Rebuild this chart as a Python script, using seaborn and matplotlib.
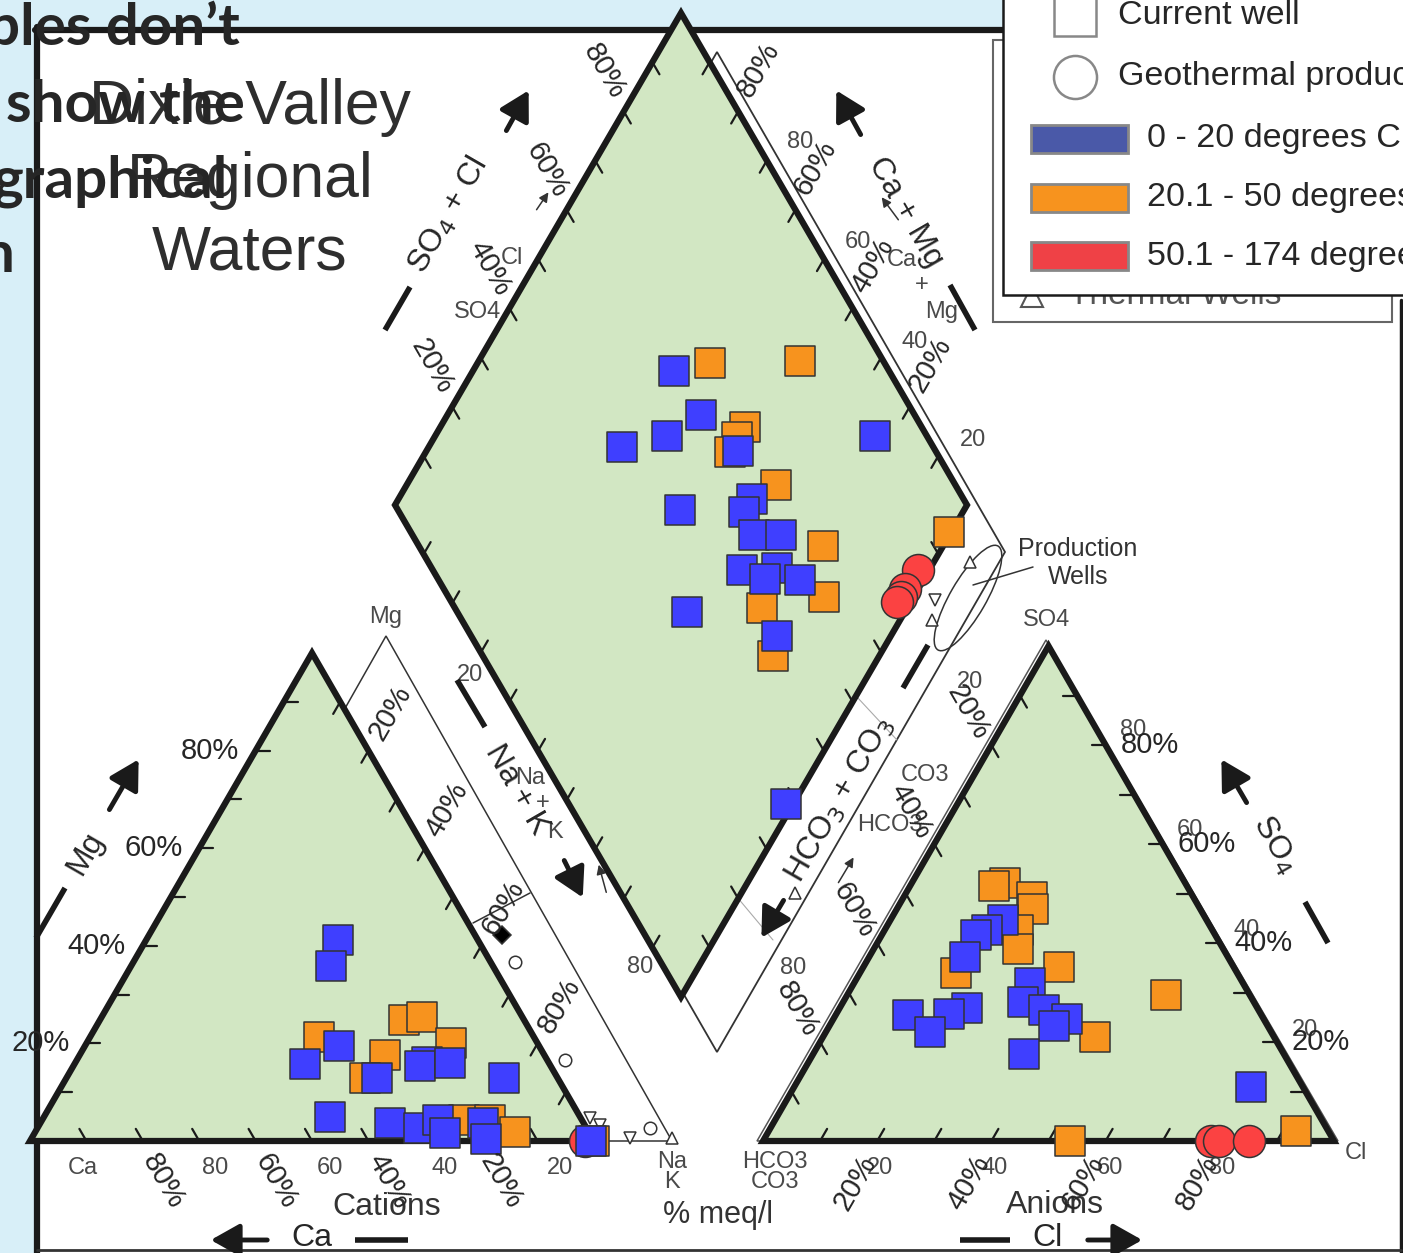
import numpy as np
import pandas as pd
import matplotlib
matplotlib.use("Agg")
import matplotlib.pyplot as plt
import seaborn as sns
from matplotlib.patches import Polygon, Rectangle, Ellipse

# ---- data ----
# cation triangle: Mg %, Na+K %
cat_blue_mg = [41.2, 35.8, 19.5, 15.8, 12.9, 16.2, 15.4, 16.0, 12.9, 4.9, 3.7, 2.7, 4.3, 1.6, 3.7, 0.4, 0.0]
cat_blue_nak = [34.0, 35.5, 45.0, 40.9, 55.1, 62.3, 61.5, 66.5, 77.6, 50.8, 62.0, 67.6, 70.2, 72.8, 78.5, 80.6, 99.5]
cat_orange_mg = [21.3, 24.8, 25.4, 17.6, 20.1, 12.9, 4.3, 4.3, 1.8, 0.0]
cat_orange_nak = [40.6, 53.9, 56.8, 54.1, 64.6, 52.9, 74.8, 79.4, 85.1, 100.0]
cat_red_mg = [0.0]
cat_red_nak = [98.4]

# diamond: Ca+Mg %, SO4+Cl %
dia_blue_camg = [64.8, 55.6, 59.5, 66.2, 45.5, 23.1, 38.2, 38.3, 49.7, 34.2, 29.5, 32.7, 26.8, 27.8, 21.6, 38.1, 19.9, 1.3]
dia_blue_so4cl = [62.4, 62.6, 54.6, 45.6, 65.4, 90.9, 63.0, 60.3, 49.3, 59.7, 64.5, 54.0, 60.4, 57.2, 63.2, 40.2, 53.5, 38.0]
dia_orange_camg = [59.4, 43.8, 46.7, 47.1, 46.8, 35.4, 21.0, 15.6, 25.4, 18.6, 0.4]
dia_orange_so4cl = [69.5, 85.4, 69.1, 66.7, 63.9, 68.6, 70.7, 65.6, 53.7, 50.8, 94.1]
dia_red_camg = [1.9, 2.3, 2.2, 2.4]
dia_red_so4cl = [84.8, 80.6, 79.1, 77.9]

# anion triangle: SO4 %, Cl %
an_blue_so4 = [44.6, 42.6, 41.6, 37.2, 26.9, 25.5, 25.7, 22.0, 31.9, 28.1, 26.5, 24.6, 23.2, 17.6, 10.9]
an_blue_cl = [19.7, 17.9, 16.5, 16.8, 22.3, 12.7, 19.7, 18.2, 30.8, 31.5, 36.0, 40.9, 39.3, 36.9, 80.0]
an_orange_so4 = [52.1, 51.5, 49.3, 46.9, 42.6, 38.8, 33.9, 35.2, 29.5, 21.0, 0.0, 2.0]
an_orange_cl = [16.3, 14.7, 22.4, 23.8, 23.3, 25.2, 16.8, 34.2, 55.8, 47.6, 53.8, 92.3]
an_red_so4 = [0.0, 0.0, 0.0]
an_red_cl = [78.5, 79.9, 85.1]

temp_labels = ["0 - 20 degrees C", "20.1 - 50 degrees C", "50.1 - 174 degrees C"]
pct_labels = [20, 40, 60, 80]

# ---- geometry of the drawing (pixel space) ----
CA, NAK, MG = np.array([30, 1141.]), np.array([594, 1141.]), np.array([312, 653.])
HCO3, CL, SO4 = np.array([763, 1141.]), np.array([1334, 1141.]), np.array([1048.5, 646.])
DT, DL, DR, DB = np.array([681, 13.]), np.array([395, 505.]), np.array([967, 505.]), np.array([681, 997.])

GREEN = "#d2e7c3"
COLORS = {"blue": "#3f3fff", "orange": "#f7931e", "red": "#fb4242"}


def cation_xy(mg, nak):
    mg, nak = np.asarray(mg) / 100, np.asarray(nak) / 100
    p = np.outer(1 - mg - nak, CA) + np.outer(nak, NAK) + np.outer(mg, MG)
    return p[:, 0], p[:, 1]


def anion_xy(so4, cl):
    so4, cl = np.asarray(so4) / 100, np.asarray(cl) / 100
    p = np.outer(1 - so4 - cl, HCO3) + np.outer(cl, CL) + np.outer(so4, SO4)
    return p[:, 0], p[:, 1]


def diamond_xy(camg, so4cl):
    a, b = np.asarray(camg) / 100, np.asarray(so4cl) / 100
    p = DB + np.outer(a, DL - DB) + np.outer(b, DR - DB)
    return p[:, 0], p[:, 1]


rows = []
for col, (mg, nak) in zip(["orange", "blue", "red"],
                          [(cat_orange_mg, cat_orange_nak), (cat_blue_mg, cat_blue_nak), (cat_red_mg, cat_red_nak)]):
    x, y = cation_xy(mg, nak)
    rows += [dict(x=a, y=b, c=col) for a, b in zip(x, y)]
for col, (ca, sc) in zip(["orange", "blue", "red"],
                         [(dia_orange_camg, dia_orange_so4cl), (dia_blue_camg, dia_blue_so4cl), (dia_red_camg, dia_red_so4cl)]):
    x, y = diamond_xy(ca, sc)
    rows += [dict(x=a, y=b, c=col) for a, b in zip(x, y)]
for col, (s, c) in zip(["orange", "blue", "red"],
                       [(an_orange_so4, an_orange_cl), (an_blue_so4, an_blue_cl), (an_red_so4, an_red_cl)]):
    x, y = anion_xy(s, c)
    rows += [dict(x=a, y=b, c=col) for a, b in zip(x, y)]
df = pd.DataFrame(rows)

sns.set_theme(style="white")
plt.rcParams['font.family'] = ['Liberation Sans', 'DejaVu Sans']

fig = plt.figure(figsize=(14.03, 12.53), dpi=100)
ax = fig.add_axes([0, 0, 1, 1])
ax.set_xlim(0, 1403)
ax.set_ylim(1253, 0)
ax.axis('off')

# slide background + frame
ax.add_patch(Rectangle((0, 0), 1403, 30, color="#d8eff8", zorder=0))
ax.add_patch(Rectangle((0, 0), 37, 1253, color="#d8eff8", zorder=0))
ax.plot([37, 37], [27, 1253], color='k', lw=4.5, zorder=1)
ax.plot([35, 1010], [30, 30], color='k', lw=4.5, zorder=1)
ax.plot([1401, 1401], [300, 1253], color='k', lw=2.5, zorder=1)
ax.plot([37, 1401], [1250, 1250], color='#333', lw=2, zorder=1)

# old (scanned) diagram underneath
old = dict(color='#333', lw=1.1, zorder=2)
ax.add_patch(Polygon([[100, 1141], [386, 636], [672, 1141]], closed=True, fill=False, ec='#333', lw=1.1, zorder=2))
ax.add_patch(Polygon([[717, 52], [1005, 552], [717, 1052], [429, 552]], closed=True, fill=False, ec='#333', lw=1.3, zorder=2))
ax.add_patch(Polygon([[757, 1141], [1046, 640], [1338, 1141]], closed=True, fill=False, ec='#555', lw=1.1, zorder=2))
ax.plot([473, 530], [923, 893], **old)
ax.plot([857, 897], [697, 740], color='#aaa', lw=0.8, zorder=2)
ax.plot([737, 773], [897, 940], color='#aaa', lw=0.8, zorder=2)
ax.add_patch(Ellipse((968, 598), 36, 120, angle=30, fill=False, ec='#333', lw=1.1, zorder=2))
ax.plot([973, 1033], [585, 567], **old)
gry = dict(color='#4a4a4a', fontsize=17, ha='center', va='center', zorder=2)
for s, x, y in [("Mg", 386, 617), ("20", 470, 675), ("Na", 530, 778), ("+", 543, 803), ("K", 555, 832),
                ("80", 640, 967), ("Na\nK", 672, 1172), ("Ca", 83, 1168), ("80", 215, 1168),
                ("60", 330, 1168), ("40", 445, 1168), ("20", 560, 1168), ("HCO3\nCO3", 775, 1172),
                ("20", 880, 1168), ("40", 995, 1168), ("60", 1110, 1168), ("80", 1222, 1168),
                ("Cl", 1356, 1153), ("SO4", 1047, 620), ("80", 1133, 730), ("60", 1190, 830),
                ("40", 1247, 930), ("20", 1305, 1030), ("20", 970, 682), ("CO3", 925, 775),
                ("HCO3", 890, 825), ("80", 793, 968), ("20", 973, 440), ("40", 915, 342),
                ("60", 858, 242), ("80", 800, 142), ("Ca", 902, 260), ("+", 922, 285),
                ("Mg", 942, 312), ("Cl", 512, 258), ("SO4", 478, 312)]:
    ax.text(x, y, s, linespacing=0.9, **gry)
ax.text(387, 1207, "Cations", color='#333', fontsize=23, ha='center', va='center', zorder=2)
ax.text(1055, 1205, "Anions", color='#333', fontsize=23, ha='center', va='center', zorder=2)
ax.text(718, 1215, "% meq/l", color='#333', fontsize=22, ha='center', va='center', zorder=2)
ax.text(1078, 563, "Production\nWells", color='#333', fontsize=18, ha='center', va='center', linespacing=1.25, zorder=2)
for a, b in [((550, 190), (535, 212)), ((880, 195), (900, 222)), ((598, 862), (607, 895)), ((855, 855), (837, 885))]:
    ax.annotate('', xy=a, xytext=b, arrowprops=dict(arrowstyle='-|>', color='#333', lw=1.1, mutation_scale=14), zorder=2)
old_pts = [(970, 562, '^'), (935, 600, 'v'), (932, 620, '^'), (795, 893, '^'), (590, 1118, 'v'),
           (600, 1125, 'v'), (630, 1138, 'v'), (650, 1128, 'o'), (672, 1138, '^'), (565, 1060, 'o'),
           (515, 962, 'o'), (502, 935, 'D')]
for x, y, m in old_pts:
    ax.plot(x, y, marker=m, ms=9, mfc='black' if m == 'D' else 'white', mec='#333', mew=1.1, zorder=2)

# green piper diagram
for verts in [[CA, MG, NAK], [HCO3, SO4, CL], [DT, DR, DB, DL]]:
    ax.add_patch(Polygon(verts, closed=True, fc=GREEN, ec='k', lw=4.5, joinstyle='miter', zorder=3))


def ticks(p0, p1, direction, n=10, length=14):
    d = direction / np.linalg.norm(direction)
    for f in np.arange(1, n) / n:
        p = p0 + f * (p1 - p0)
        q = p + d * length
        ax.plot([p[0], q[0]], [p[1], q[1]], color='k', lw=1.6, zorder=4)


ticks(CA, MG, NAK - CA)
ticks(CA, NAK, MG - NAK)
ticks(NAK, MG, CA - MG)
ticks(CL, SO4, HCO3 - CL)
ticks(HCO3, CL, SO4 - HCO3)
ticks(HCO3, SO4, CL - SO4)
ticks(DL, DT, DB - DL)
ticks(DL, DB, DT - DL)
ticks(DR, DT, DB - DR)
ticks(DR, DB, DT - DR)

# percentage labels
lab = dict(fontsize=21, ha='center', va='center', rotation_mode='anchor', zorder=6)
for v in pct_labels:
    f = v / 100
    p = CA + f * (MG - CA)
    ax.text(p[0] - 46, p[1], f"{v}%", **lab)
    p = CL + f * (SO4 - CL)
    ax.text(p[0] + 44, p[1], f"{v}%", **lab)
    p = CA + f * (NAK - CA)
    ax.text(p[0] + 20, p[1] + 40, f"{100 - v}%", rotation=-60, **lab)
    p = HCO3 + f * (CL - HCO3)
    ax.text(p[0] - 22, p[1] + 42, f"{v}%", rotation=60, **lab)
    p = MG + f * (NAK - MG)
    ax.text(p[0] + 22, p[1] - 38, f"{v}%", rotation=60, **lab)
    p = SO4 + f * (HCO3 - SO4)
    ax.text(p[0] - 23, p[1] - 33, f"{v}%", rotation=-60, **lab)
    p = DL + f * (DT - DL)
    ax.text(p[0] - 20, p[1] - 40, f"{v}%", rotation=-60, **lab)
    p = DR + f * (DT - DR)
    ax.text(p[0] + 20, p[1] - 42, f"{v}%", rotation=60, **lab)

# axis names with arrows and dashes
names = [("Mg", 85, 853, 60, (108, 812), (140, 757), (36, 938), (65, 888)),
         ("SO$_4$ + Cl", 448, 215, 60, (505, 133), (530, 88), (385, 330), (410, 287)),
         ("Ca + Mg", 905, 212, -60, (862, 137), (835, 88), (950, 285), (975, 330)),
         ("Na + K", 517, 790, -60, (563, 858), (584, 900), (457, 680), (485, 727)),
         ("HCO$_3$ + CO$_3$", 840, 800, 60, (785, 898), (760, 940), (903, 688), (928, 645)),
         ("SO$_4$", 1275, 845, -60, (1248, 805), (1220, 757), (1305, 902), (1328, 943)),
         ("Ca", 312, 1238, 0, (270, 1240), (208, 1240), (355, 1240), (408, 1240)),
         ("Cl", 1048, 1238, 0, (1085, 1240), (1145, 1240), (960, 1240), (1010, 1240))]
for s, x, y, rot, a0, a1, d0, d1 in names:
    ax.text(x, y, s, fontsize=23, rotation=rot, ha='center', va='center', rotation_mode='anchor', zorder=6)
    ax.annotate('', xy=a1, xytext=a0, zorder=6,
                arrowprops=dict(arrowstyle='-|>,head_length=0.8,head_width=0.45', color='k', lw=3.5, mutation_scale=22))
    ax.plot([d0[0], d1[0]], [d0[1], d1[1]], color='k', lw=4, solid_capstyle='butt', zorder=6)

# samples: red drawn first so squares sit on top of it, as in the source
sns.scatterplot(data=df[df.c == "red"], x='x', y='y', color=COLORS["red"], marker='o', s=530,
                edgecolor='#333', linewidth=1.1, ax=ax, legend=False, zorder=5)
for col in ["orange", "blue"]:
    sns.scatterplot(data=df[df.c == col], x='x', y='y', color=COLORS[col], marker='s', s=436,
                    edgecolor='#333', linewidth=1.1, ax=ax, legend=False, zorder=5)
ax.set_xlim(0, 1403)
ax.set_ylim(1253, 0)
ax.axis('off')

# old legend remnant
ax.add_patch(Rectangle((993, 40), 399, 282, fill=False, ec='#666', lw=1.5, zorder=6))
ax.text(1175, 296, "Thermal Wells", color='#555', fontsize=24, ha='center', va='center', zorder=6)
ax.plot(1032, 296, marker='^', ms=16, mfc='white', mec='#555', mew=1.5, zorder=6)

# legend
ax.add_patch(Rectangle((1003, -10), 420, 305, fc='white', ec='k', lw=1.8, zorder=7))
ax.plot(1075, 15, marker='s', ms=30, mfc='white', mec='#888', mew=1.8, zorder=8)
ax.plot(1075, 77, marker='o', ms=31, mfc='white', mec='#888', mew=1.8, zorder=8)
ax.text(1118, 15, "Current well", fontsize=24.5, va='center', zorder=8)
ax.text(1118, 76, "Geothermal production wells", fontsize=24.5, va='center', zorder=8)
for i, (col, txt) in enumerate(zip(["#4a59a8", COLORS["orange"], "#ef4146"], temp_labels)):
    y = 125 + i * 58.5
    ax.add_patch(Rectangle((1031, y), 97, 28, fc=col, ec='#888', lw=2, zorder=8))
    ax.text(1147, y + 14, txt, fontsize=24.5, va='center', zorder=8)

# title
ax.text(250, 78, "Dixie Valley\nRegional\nWaters", fontsize=45, color='#2e2e2e', ha='center', va='top',
        linespacing=1.3, zorder=6)

# overlaid slide text
bold = dict(fontsize=42, fontweight='bold', family=['Lato', 'DejaVu Sans'], ha='right', va='baseline', zorder=9)
ax.text(240, 45, "ples don\u2019t", **bold)
ax.text(245, 122, "show the", **bold)
ax.text(228, 197, "graphical", **bold)
ax.text(14, 272, "n", **bold)

fig.savefig("out.png", dpi=100)
